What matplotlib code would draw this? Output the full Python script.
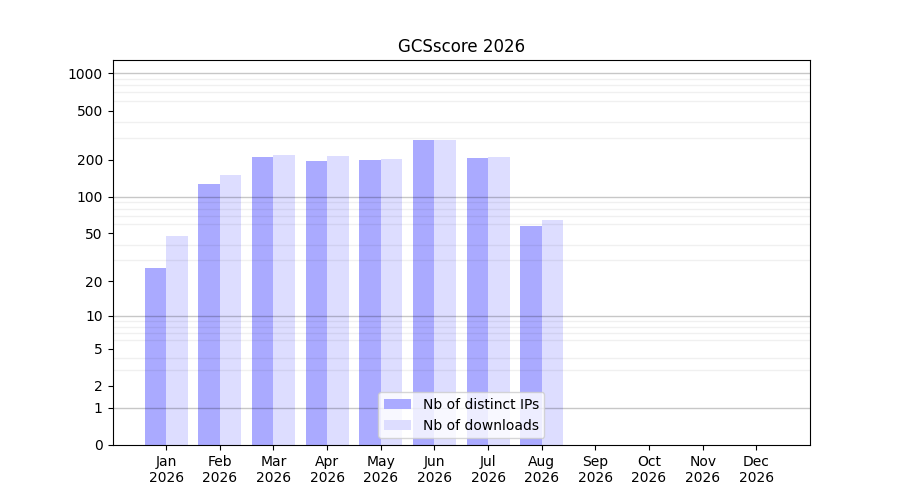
import numpy as np
import matplotlib
matplotlib.use("Agg")
import matplotlib.pyplot as plt
from matplotlib.ticker import FixedLocator, FixedFormatter

months = ["Jan", "Feb", "Mar", "Apr", "May", "Jun", "Jul", "Aug", "Sep", "Oct", "Nov", "Dec"]
year = "2026"
distinct_ips = [26, 127, 210, 195, 197, 288, 207, 58, 0, 0, 0, 0]
downloads = [48, 151, 218, 213, 204, 288, 210, 65, 0, 0, 0, 0]
major_ticks = [0, 1, 2, 5, 10, 20, 50, 100, 200, 500, 1000]

fig, ax = plt.subplots(figsize=(9, 5), dpi=100)

def fwd(v):
    return np.log10(np.asarray(v, dtype=float) + 1)

def inv(v):
    return 10 ** np.asarray(v, dtype=float) - 1

ax.set_yscale("function", functions=(fwd, inv))

x = np.arange(len(months))
w = 0.4
ax.bar(x, distinct_ips, width=-w, align="edge", color="#aaaaff", label="Nb of distinct IPs")
ax.bar(x, downloads, width=w, align="edge", color="#ddddff", label="Nb of downloads")

ax.set_xlim(-1, 12)
ax.set_ylim(0, 1280)
ax.set_xticks(x)
ax.set_xticklabels([f"{m}\n{year}" for m in months])

ax.yaxis.set_major_locator(FixedLocator(major_ticks))
ax.yaxis.set_major_formatter(FixedFormatter([str(t) for t in major_ticks]))
minor = [v * d for d in (1, 10, 100) for v in range(2, 10)] + [1000 * v for v in (1,)]
ax.yaxis.set_minor_locator(FixedLocator([m for m in minor if m not in (1000,)]))
ax.tick_params(axis="y", which="minor", length=0)

for v in [1, 10, 100, 1000]:
    ax.axhline(v, color="black", alpha=0.22, linewidth=1, zorder=1.5)
ax.grid(True, which="minor", axis="y", color="black", alpha=0.06, linewidth=1)

ax.set_title("GCSscore 2026")
ax.legend(loc="lower center")

fig.savefig("out.png", dpi=100)
